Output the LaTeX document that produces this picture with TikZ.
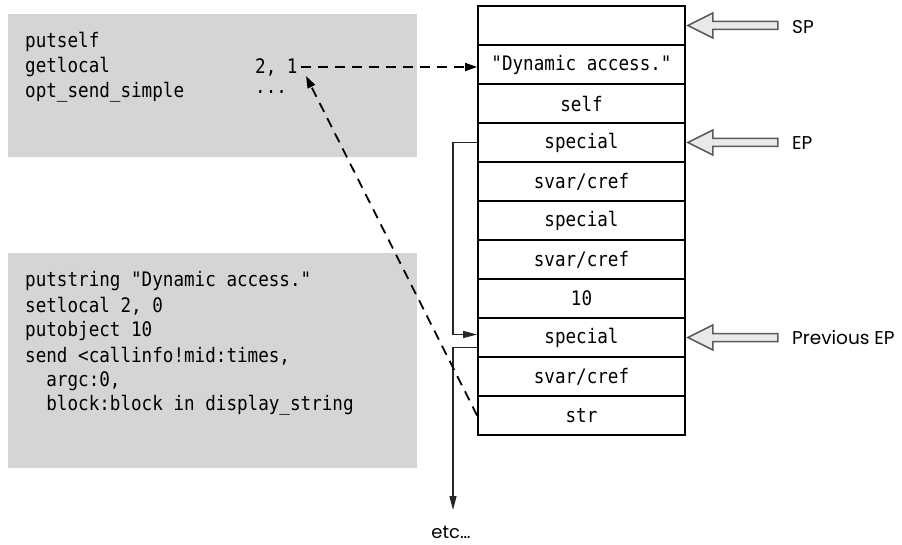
\documentclass[tikz,border=0pt]{standalone}
\usepackage{fontspec}
\setmainfont{Poppins}
\newfontfamily\codefont[FakeStretch=0.88]{DejaVu Sans Mono}
\usetikzlibrary{arrows.meta}
\definecolor{codebg}{RGB}{212,213,215}
\definecolor{ptrfill}{RGB}{232,233,233}
\definecolor{ptrline}{RGB}{90,90,90}
\tikzset{
  codebox/.style={fill=codebg, draw=none},
  code/.style={font=\codefont\fontsize{20}{24.7}\selectfont, anchor=west, inner sep=0pt},
  cell/.style={draw=black, line width=1.8pt, minimum width=207pt, minimum height=39pt,
    inner sep=0pt, font=\codefont\fontsize{20}{24}\selectfont},
  lbl/.style={font=\fontsize{18.5}{20}\selectfont, anchor=west, inner sep=0pt},
  link/.style={draw=black!85, line width=1.3pt, -{Triangle[length=14pt,width=7pt]}},
  linkplain/.style={draw=black!85, line width=1.3pt},
  dashlink/.style={draw=black, line width=1.8pt, dash pattern=on 10pt off 7pt, -{Triangle[length=12pt,width=8pt]}},
  ptrstyle/.style={fill=ptrfill, draw=ptrline, line width=1.5pt, line join=miter},
  ptr/.pic={\path[ptrstyle] (0,0) -- (25,-12.5) -- (25,-4) -- (90,-4) -- (90,4) -- (25,4) -- (25,12.5) -- cycle;}
}
\begin{document}
\begin{tikzpicture}[x=1pt,y=-1pt]
\useasboundingbox (0,0) rectangle (902,545);
% code boxes
\path[codebox] (8,14) rectangle (417,157);
\path[codebox] (8,253) rectangle (417,468);
\node[code] (l1) at (25,42) {putself};
\node[code] (l2) at (25,67) {getlocal};
\node[code] (l3) at (25,92) {opt\_send\_simple};
\node[code] (args) at (255,67) {2, 1};
\node[code] (dots) at (255,92) {...};
\node[code] (m1) at (25,281) {putstring "Dynamic access."};
\node[code] (m2) at (25,306) {setlocal 2, 0};
\node[code] (m3) at (25,331) {putobject 10};
\node[code] (m4) at (25,356) {send <callinfo!mid:times,};
\node[code] (m5) at (25,381) {\ \ argc:0,};
\node[code] (m6) at (25,405) {\ \ block:block in display\_string};
% stack
\node[cell] (c0) at (581.5,25.5) {};
\node[cell] (c1) at (581.5,64.5) {"Dynamic access."};
\node[cell] (c2) at (581.5,103.5) {self};
\node[cell] (c3) at (581.5,142.5) {special};
\node[cell] (c4) at (581.5,181.5) {svar/cref};
\node[cell] (c5) at (581.5,220.5) {special};
\node[cell] (c6) at (581.5,259.5) {svar/cref};
\node[cell] (c7) at (581.5,298.5) {10};
\node[cell] (c8) at (581.5,337.5) {special};
\node[cell] (c9) at (581.5,376.5) {svar/cref};
\node[cell] (c10) at (581.5,415.5) {str};
% pointers
\pic at ([xshift=2pt]c0.east) {ptr};
\pic at ([xshift=2pt]c3.east) {ptr};
\pic at ([xshift=2pt]c8.east) {ptr};
\node[lbl] (sp) at (792,27) {SP};
\node[lbl] (ep) at (792,143) {EP};
\node[lbl] (pep) at (792,338) {Previous EP};
% links
\coordinate (lx) at (453,0);
\draw[link] (c3.west) -- (c3.west -| lx) -- ([yshift=3pt]c8.west -| lx) -- ([yshift=3pt]c8.west);
\coordinate (etcend) at (453,510);
\draw[linkplain] ([yshift=-10pt]c8.west) -- ([yshift=-10pt]c8.west -| lx) -- ([yshift=20pt]etcend);
\draw[link] ([yshift=20pt]etcend) -- (etcend);
\node[font=\fontsize{18}{18}\selectfont, inner sep=0pt] (etc) at (451,532) {etc…};
% dashed
\draw[dashlink] ([xshift=3pt]args.east) -- (args.east -| c1.west);
\coordinate (tip) at (306,76);
\draw[dashlink] (c10.west) -- (tip);
\end{tikzpicture}
\end{document}
